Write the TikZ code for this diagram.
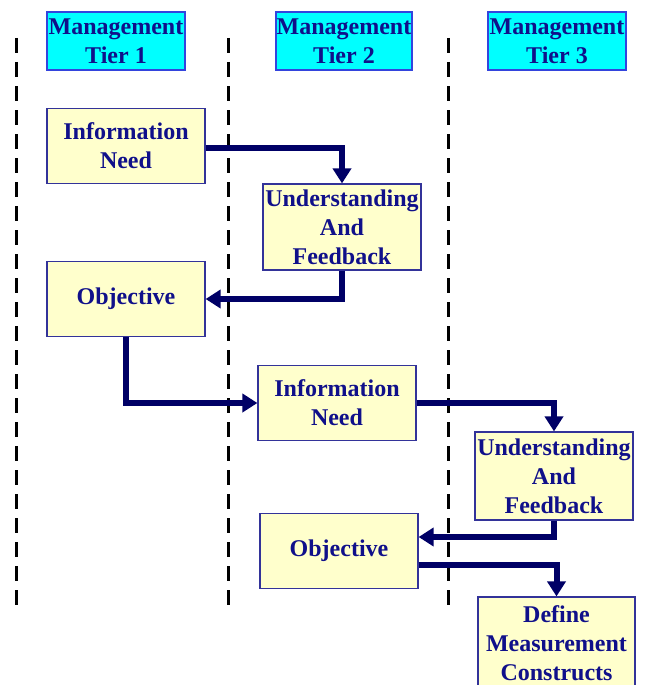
\documentclass[tikz,border=0pt]{standalone}
\usepackage{fontspec}
\setmainfont{Liberation Serif}
\usetikzlibrary{arrows.meta}
\definecolor{navytxt}{HTML}{10108A}
\definecolor{arrowc}{HTML}{000066}
\definecolor{boxfill}{HTML}{FFFFCC}
\definecolor{boxline}{HTML}{333399}
\definecolor{hdrfill}{HTML}{00FFFF}
\definecolor{hdrline}{HTML}{3344DD}
\tikzset{
  hdr/.style={draw=hdrline, line width=1.2pt, fill=hdrfill, align=center, inner sep=0pt,
    font=\fontsize{24}{29}\selectfont\bfseries, text=navytxt},
  ybox/.style={draw=boxline, line width=1.2pt, fill=boxfill, align=center, inner sep=0pt,
    font=\fontsize{24}{29}\selectfont\bfseries, text=navytxt},
  divider/.style={line width=3pt, dash pattern=on 15pt off 9pt},
  flow/.style={line width=6pt, draw=arrowc, -{Triangle[length=15pt,width=18pt]}}
}
\begin{document}
\begin{tikzpicture}[x=1pt,y=-1pt]
\useasboundingbox (0,0) rectangle (649,685);
% dividers
\coordinate (d1a) at (16,38); \coordinate (d1b) at (16,610);
\coordinate (d2a) at (228,38); \coordinate (d2b) at (228,610);
\coordinate (d3a) at (448,38); \coordinate (d3b) at (448,610);
\draw[divider] (d1a) -- (d1b);
\draw[divider] (d2a) -- (d2b);
\draw[divider] (d3a) -- (d3b);
% headers
\node[hdr, minimum width=138pt, minimum height=58pt] (h1) at (116,41) {Management\\Tier 1};
\node[hdr, minimum width=136pt, minimum height=58pt] (h2) at (344,41) {Management\\Tier 2};
\node[hdr, minimum width=138pt, minimum height=58pt] (h3) at (557,41) {Management\\Tier 3};
% boxes
\node[ybox, minimum width=158pt, minimum height=75pt] (in1) at (126,146) {Information\\Need};
\node[ybox, minimum width=158pt, minimum height=86pt] (uf1) at (342,227) {Understanding\\And\\Feedback};
\node[ybox, minimum width=158pt, minimum height=75pt] (obj1) at (126,299) {Objective};
\node[ybox, minimum width=158pt, minimum height=75pt] (in2) at (337,403) {Information\\Need};
\node[ybox, minimum width=158pt, minimum height=88pt] (uf2) at (554,476) {Understanding\\And\\Feedback};
\node[ybox, minimum width=158pt, minimum height=75pt] (obj2) at (339,551) {Objective};
\node[ybox, minimum width=157pt, minimum height=92pt, text depth=0pt] (dmc) at (556.5,643) {Define\\Measurement\\Constructs};
% arrows
\draw[flow] ([yshift=-2pt]in1.east) -| (uf1.north);
\draw[flow] (uf1.south) |- (obj1.east);
\draw[flow] (obj1.south) |- (in2.west);
\draw[flow] (in2.east) -| (uf2.north);
\draw[flow] (uf2.south) |- ([yshift=14pt]obj2.east);
\draw[flow] ([yshift=-14pt]obj2.east) -| (dmc.north);
\end{tikzpicture}
\end{document}
